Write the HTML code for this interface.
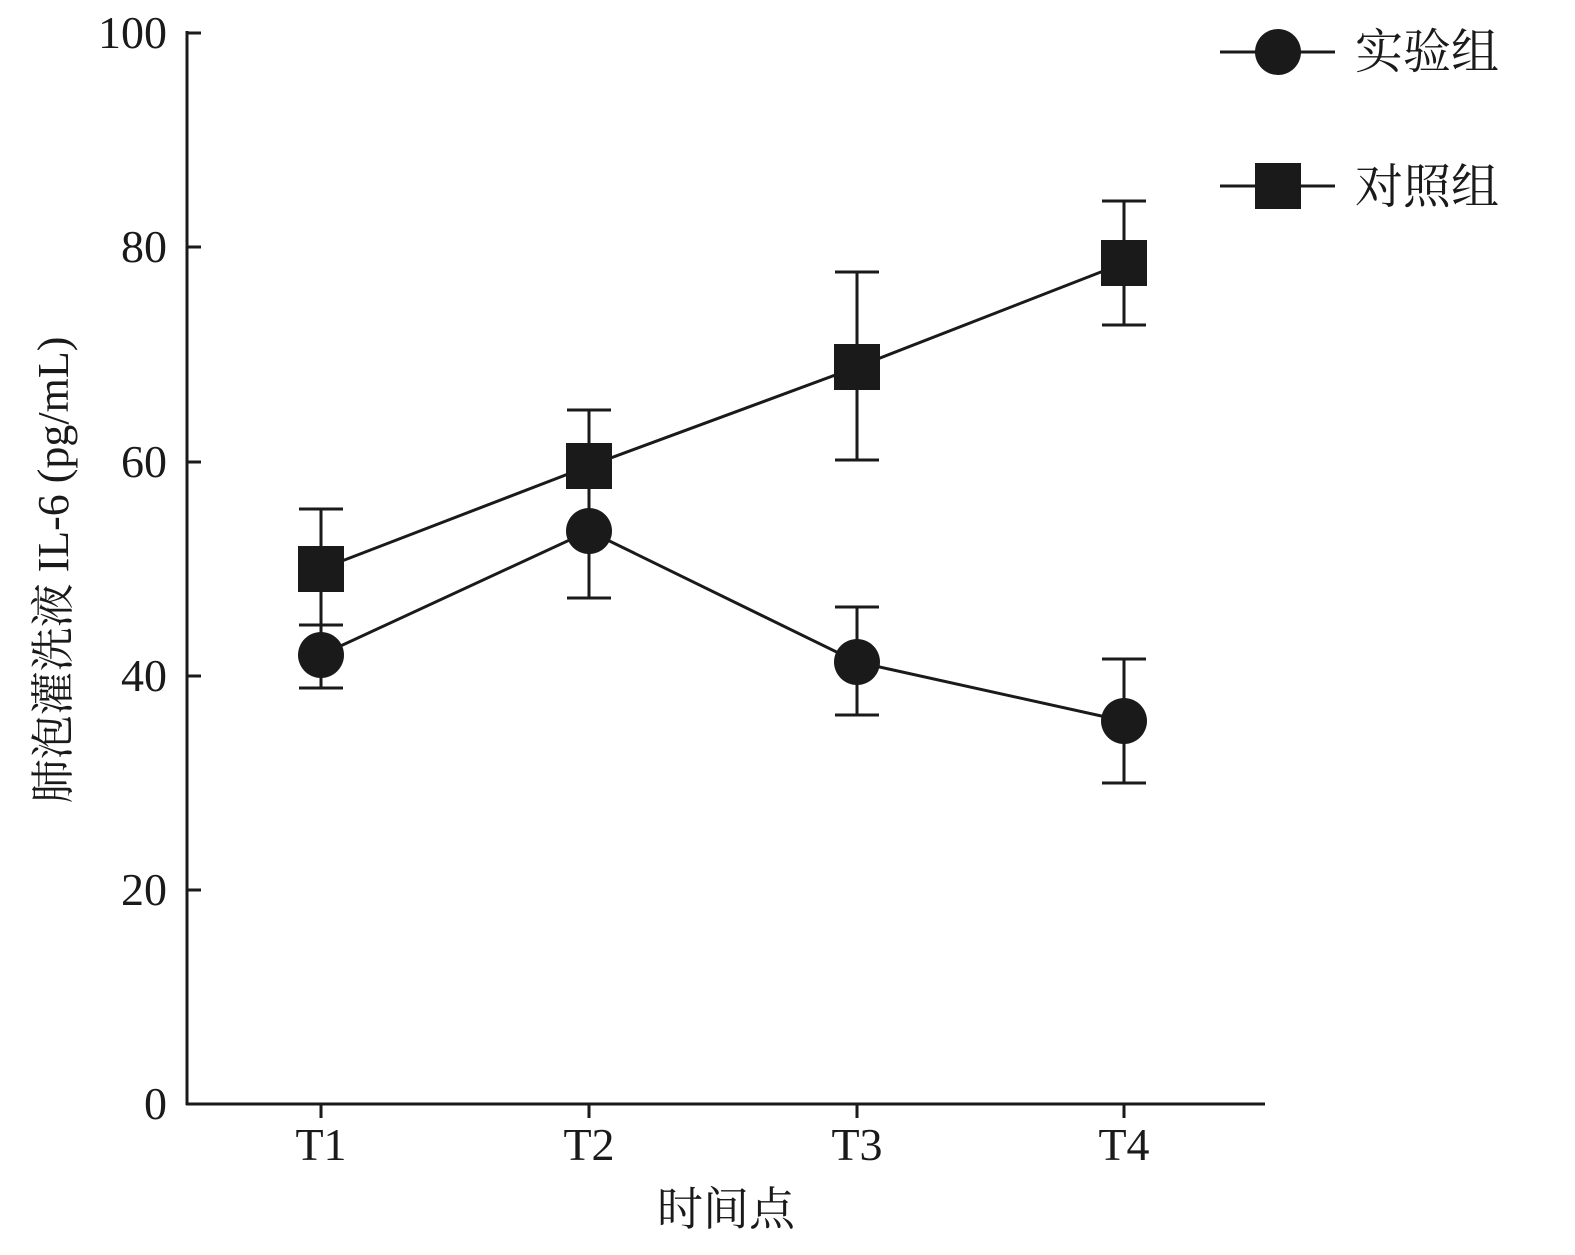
<!DOCTYPE html>
<html><head><meta charset="utf-8"><style>body{margin:0;background:#fff}</style></head>
<body>
<svg width="1575" height="1250" xmlns="http://www.w3.org/2000/svg" font-family="'Liberation Serif','Noto Serif CJK SC',serif" fill="#1a1a1a">
<g stroke="#1a1a1a" stroke-width="3" fill="none">
<line x1="187" y1="31" x2="187" y2="1105"/>
<line x1="186" y1="1104" x2="1265" y2="1104"/>
<line x1="187" y1="33" x2="201" y2="33"/>
<line x1="187" y1="247" x2="201" y2="247"/>
<line x1="187" y1="462" x2="201" y2="462"/>
<line x1="187" y1="676" x2="201" y2="676"/>
<line x1="187" y1="890" x2="201" y2="890"/>
<line x1="321" y1="1104" x2="321" y2="1118"/>
<line x1="589" y1="1104" x2="589" y2="1118"/>
<line x1="857" y1="1104" x2="857" y2="1118"/>
<line x1="1124" y1="1104" x2="1124" y2="1118"/>
<!-- lines -->
<polyline points="321,655 589,531 857,662 1124,721"/>
<polyline points="321,569 589,466 857,367 1124,263"/>
<!-- error bars exp -->
<path d="M321 625V688M299 625H343M299 688H343"/>
<path d="M589 500V598M567 598H611"/>
<path d="M857 607V715M835 607H879M835 715H879"/>
<path d="M1124 659V783M1102 659H1146M1102 783H1146"/>
<!-- error bars ctrl -->
<path d="M321 509V625M299 509H343M299 625H343"/>
<path d="M589 410V500M567 410H611"/>
<path d="M857 272V460M835 272H879M835 460H879"/>
<path d="M1124 201V325M1102 201H1146M1102 325H1146"/>
<line x1="1220" y1="52" x2="1335" y2="52"/>
<line x1="1220" y1="186" x2="1335" y2="186"/>
</g>
<g>
<circle cx="321" cy="655" r="23"/><circle cx="589" cy="531" r="23"/><circle cx="857" cy="662" r="23"/><circle cx="1124" cy="721" r="23"/>
<rect x="298" y="546" width="46" height="46"/><rect x="566" y="443" width="46" height="46"/><rect x="834" y="344" width="46" height="46"/><rect x="1101" y="240" width="46" height="46"/>
<circle cx="1278" cy="52" r="23"/><rect x="1255" y="163" width="46" height="46"/>
</g>
<g font-size="46" text-anchor="end">
<text x="167" y="48">100</text><text x="167" y="262">80</text><text x="167" y="477">60</text><text x="167" y="691">40</text><text x="167" y="905">20</text><text x="167" y="1119">0</text>
</g>
<g font-size="46" text-anchor="middle">
<text x="321" y="1160">T1</text><text x="589" y="1160">T2</text><text x="857" y="1160">T3</text><text x="1124" y="1160">T4</text>
<text x="726" y="1225">时间点</text>
<text transform="translate(68,570) rotate(-90)" font-size="44">肺泡灌洗液 IL-6 (pg/mL)</text>
</g>
<g font-size="48"><text x="1355" y="68">实验组</text><text x="1355" y="203">对照组</text></g>
</svg>
</body></html>
